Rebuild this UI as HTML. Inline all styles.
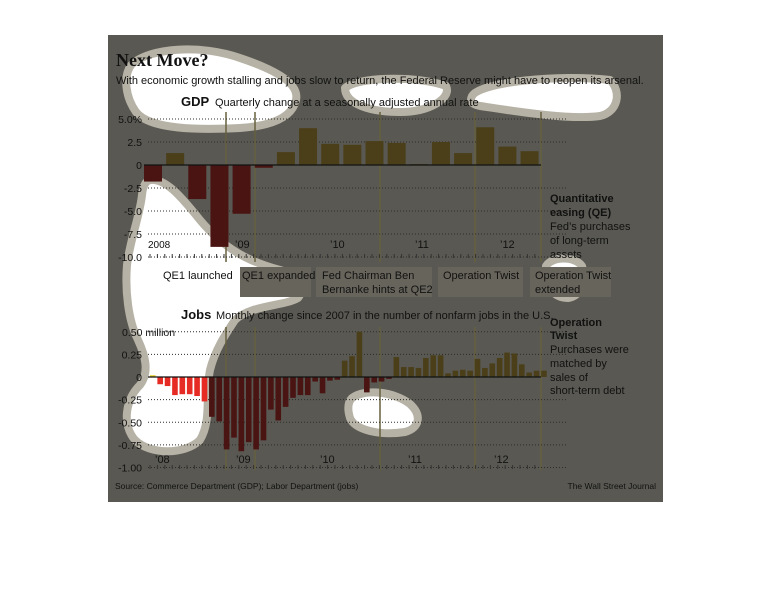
<!DOCTYPE html>
<html><head><meta charset="utf-8"><style>
html,body{margin:0;padding:0;background:#fff;width:770px;height:596px;overflow:hidden}
svg{display:block;font-family:"Liberation Sans",sans-serif}
</style></head><body>
<svg id="s" width="770" height="596" viewBox="0 0 770 596">
<rect x="108" y="35" width="555" height="467" fill="#595852"/>
<g fill="#fff" stroke="#b6b2a6" stroke-width="8" stroke-linejoin="round">
<path d="M132,64 C150,48 200,44 240,58 C270,68 300,82 296,100 C292,118 270,126 240,128 C200,130 150,130 136,112 C126,98 122,76 132,64Z"/>
<path d="M345,88 C360,76 420,76 446,86 C452,98 430,112 400,112 C370,112 345,104 345,88Z"/>
<path d="M472,96 C480,82 560,74 610,80 C622,92 618,112 600,116 C570,120 520,112 480,106 C470,104 470,100 472,96Z"/>
<path d="M150,180 C165,178 180,195 200,220 C225,250 250,262 280,270 C300,276 305,290 298,298 C285,306 250,305 235,320 C225,335 215,350 210,370 C205,395 212,420 200,440 C185,455 150,455 135,440 C122,425 125,400 140,385 C150,372 145,355 138,340 C128,320 125,290 127,265 C130,240 140,215 142,195 C143,185 146,181 150,180Z"/>
<path d="M352,398 C365,388 395,392 410,404 C422,415 420,428 405,432 C380,436 355,430 350,418 C347,408 348,402 352,398Z"/>
<path d="M546,266 C552,256 575,256 582,266 C586,280 582,296 568,298 C552,298 544,284 546,266Z"/>
</g>
<g id="g"></g>
</svg>
<script>
const g=document.getElementById('g');let h='';
function t(x,y,s,o){o=o||{};h+=`<text x="${x}" y="${y}" font-size="${o.fs||10}" fill="${o.c||'#111'}" font-weight="${o.b?'bold':'normal'}" text-anchor="${o.a||'start'}" ${o.ff?'font-family="'+o.ff+'"':''}>${s}</text>`}
[[240,311],[316,432],[438,523],[530,611]].forEach(b=>h+=`<rect x="${b[0]}" y="267" width="${b[1]-b[0]}" height="30" fill="#67645b"/>`);
[226,255,380,475,541].forEach(x=>h+=`<line x1="${x}" y1="112" x2="${x}" y2="262" stroke="#66603f" stroke-width="1.5"/><line x1="${x}" y1="327" x2="${x}" y2="470" stroke="#66603f" stroke-width="1.5"/>`);
const gy=v=>165-v*9.2;
[5,2.5,-2.5,-5,-7.5,-10].forEach(v=>h+=`<line x1="148" x2="568" y1="${gy(v)}" y2="${gy(v)}" stroke="#2d2c28" stroke-dasharray="1,2"/>`);
[["5.0%",5],["2.5",2.5],["0",0],["-2.5",-2.5],["-5.0",-5],["-7.5",-7.5],["-10.0",-10]].forEach(a=>t(142,gy(a[1])+4,a[0],{a:'end',fs:10.5}));
const gd=[-1.8,1.3,-3.7,-8.9,-5.3,-0.3,1.4,4.0,2.3,2.2,2.6,2.4,0.1,2.5,1.3,4.1,2.0,1.5];
gd.forEach((v,i)=>{const x=144+i*22.15;const y=v>0?gy(v):165;h+=`<rect x="${x}" y="${y}" width="18" height="${Math.abs(v)*9.2}" fill="${v>0?'#4b3f19':'#4a1413'}"/>`});
h+=`<line x1="144" x2="541" y1="165" y2="165" stroke="#111" stroke-width="1.2"/>`;
for(let x=150;x<541;x+=7.4)h+=`<line x1="${x}" x2="${x}" y1="254" y2="258" stroke="#333"/>`;
t(148,248,"2008",{fs:10});t(235,248,"’09",{fs:11});t(330,248,"’10",{fs:11});t(415,248,"’11",{fs:11});t(500,248,"’12",{fs:11});
const jy=v=>377-v*90.5;
[0.5,0.25,-0.25,-0.5,-0.75,-1].forEach(v=>h+=`<line x1="148" x2="568" y1="${jy(v)}" y2="${jy(v)}" stroke="#2d2c28" stroke-dasharray="1,2"/>`);
[["0.50 million",.5,122],["0.25",.25,142],["0",0,142],["-0.25",-.25,142],["-0.50",-.5,142],["-0.75",-.75,142],["-1.00",-1,142]].forEach(a=>t(a[2],jy(a[1])+4,a[0],{a:a[2]==122?'start':'end',fs:10.5}));
const jd=[0.02,-0.08,-0.1,-0.2,-0.19,-0.19,-0.21,-0.27,-0.44,-0.49,-0.8,-0.67,-0.82,-0.72,-0.8,-0.7,-0.36,-0.48,-0.33,-0.23,-0.2,-0.2,-0.05,-0.18,-0.04,-0.03,0.18,0.23,0.5,-0.17,-0.06,-0.05,-0.02,0.22,0.11,0.11,0.1,0.21,0.24,0.24,0.04,0.07,0.08,0.07,0.2,0.1,0.15,0.21,0.27,0.26,0.14,0.05,0.07,0.07];
jd.forEach((v,i)=>{const x=150+i*7.38;const y=v>0?jy(v):377;let c=v>0?'#4b3f19':'#4a1413';if(i==0)c='#e8d030';if(i>=1&&i<=7)c='#e62a24';h+=`<rect x="${x}" y="${y}" width="5.6" height="${Math.abs(v)*90.5}" fill="${c}"/>`});
h+=`<line x1="148" x2="541" y1="377" y2="377" stroke="#111" stroke-width="1.2"/>`;
for(let x=150;x<541;x+=7.4)h+=`<line x1="${x}" x2="${x}" y1="465" y2="469" stroke="#333"/>`;
t(155,463,"’08",{fs:11});t(236,463,"’09",{fs:11});t(320,463,"’10",{fs:11});t(408,463,"’11",{fs:11});t(494,463,"’12",{fs:11});
t(116,66,"Next Move?",{fs:18,b:1,ff:"Liberation Serif"});
t(116,84,"With economic growth stalling and jobs slow to return, the Federal Reserve might have to reopen its arsenal.",{fs:11});
t(181,106,"GDP",{fs:13,b:1});t(215,106,"Quarterly change at a seasonally adjusted annual rate",{fs:11});
t(181,319,"Jobs",{fs:13,b:1});t(216,319,"Monthly change since 2007 in the number of nonfarm jobs in the U.S.",{fs:11});
t(163,279,"QE1 launched",{fs:11});t(242,279,"QE1 expanded",{fs:11});
t(322,279,"Fed Chairman Ben",{fs:11});t(322,293,"Bernanke hints at QE2",{fs:11});
t(443,279,"Operation Twist",{fs:11});t(535,279,"Operation Twist",{fs:11});t(535,293,"extended",{fs:11});
t(550,202,"Quantitative",{fs:11,b:1});t(550,216,"easing (QE)",{fs:11,b:1});
t(550,230,"Fed’s purchases",{fs:11});t(550,244,"of long-term",{fs:11});t(550,258,"assets",{fs:11});
t(550,326,"Operation",{fs:11,b:1});t(550,339,"Twist",{fs:11,b:1});
t(550,353,"Purchases were",{fs:11});t(550,367,"matched by",{fs:11});t(550,381,"sales of",{fs:11});t(550,394,"short-term debt",{fs:11});
t(115,489,"Source: Commerce Department (GDP); Labor Department (jobs)",{fs:8.5});
t(656,489,"The Wall Street Journal",{fs:8.5,a:'end'});
g.innerHTML=h;
</script>
</body></html>
